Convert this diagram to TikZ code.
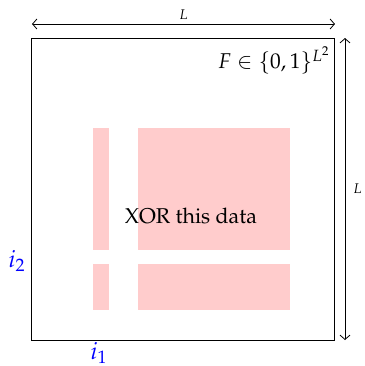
\documentclass[tikz,border=0pt]{standalone}
\usepackage[T1]{fontenc}
\usepackage{mathpazo}
\usetikzlibrary{arrows.meta}
\begin{document}
\begin{tikzpicture}[x=0.5pt,y=-0.5pt,
  dimarrow/.style={{Straight Barb[length=2.2pt,width=5pt]}-{Straight Barb[length=2.2pt,width=5pt]},thin},
  idx/.style={text=blue,font=\large,inner sep=1pt},
  lbl/.style={font=\fontsize{10.7pt}{13pt}\selectfont}]
\useasboundingbox (0,0) rectangle (365,366);
% data blocks
\fill[red!20] (93,128) rectangle (109,250);
\fill[red!20] (138,128) rectangle (290,250);
\fill[red!20] (93,264) rectangle (109,310);
\fill[red!20] (138,264) rectangle (290,310);
% square
\node (sq) [draw,line width=0.5pt,minimum width=151.5pt,minimum height=151pt,inner sep=0pt] at (183.5,189) {};
\node (xor) [lbl] at (191,216) {XOR this data};
\node (F) [lbl,anchor=north east,inner sep=1pt] at (333,44) {$F\in\{0,1\}^{L^2}$};
% dimension arrows
\coordinate (t1) at (32,24);
\coordinate (t2) at (335,24);
\draw[dimarrow] (t1) -- node[above,font=\scriptsize,inner sep=2pt] (Lt) {$L$} (t2);
\coordinate (r1) at (345,38);
\coordinate (r2) at (345,340);
\draw[dimarrow] (r1) -- node[right,font=\scriptsize,inner sep=4pt] (Lr) {$L$} (r2);
% indices
\node (i2) [idx] at (17,261) {$i_2$};
\node (i1) [idx] at (99,353) {$i_1$};
\end{tikzpicture}
\end{document}
